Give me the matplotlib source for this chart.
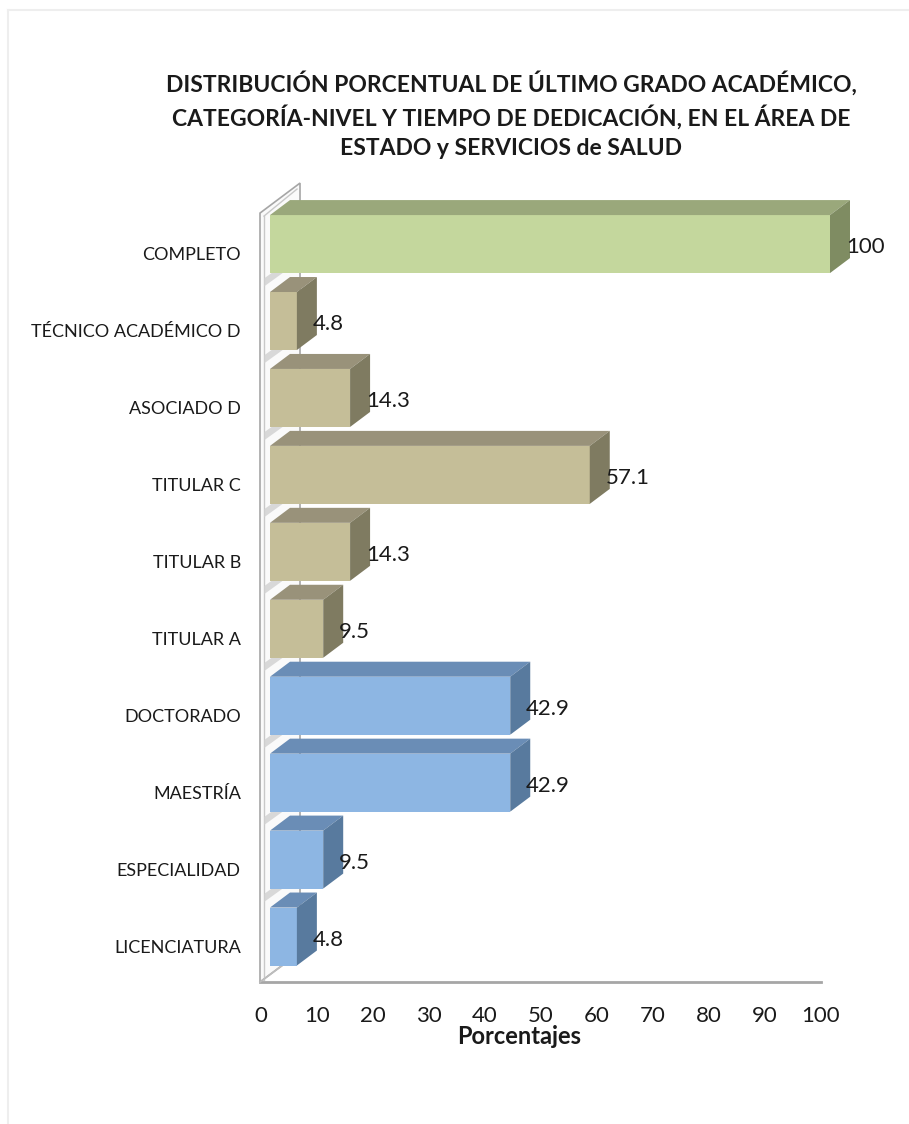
import matplotlib.pyplot as plt
import matplotlib.transforms as mtransforms
from matplotlib.patches import Polygon
import numpy as np

# Donnees
categorias = ['LICENCIATURA', 'ESPECIALIDAD', 'MAESTRÍA', 'DOCTORADO',
              'TITULAR A', 'TITULAR B', 'TITULAR C', 'ASOCIADO D',
              'TÉCNICO ACADÉMICO D', 'COMPLETO']
valores = [4.8, 9.5, 42.9, 42.9, 9.5, 14.3, 57.1, 14.3, 4.8, 100]
grupos = ['grado', 'grado', 'grado', 'grado',
          'categoria', 'categoria', 'categoria', 'categoria', 'categoria',
          'tiempo']
etiquetas = ['4.8', '9.5', '42.9', '42.9', '9.5', '14.3', '57.1', '14.3', '4.8', '100']
xticks = [0, 10, 20, 30, 40, 50, 60, 70, 80, 90, 100]

titulo = ('DISTRIBUCIÓN PORCENTUAL DE ÚLTIMO GRADO ACADÉMICO,\n'
          'CATEGORÍA-NIVEL Y TIEMPO DE DEDICACIÓN, EN EL ÁREA DE\n'
          'ESTADO y SERVICIOS de SALUD')

# couleurs (face, dessus, cote)
colores = {
    'grado': ('#8DB6E3', '#6A8DB6', '#587A9E'),
    'categoria': ('#C5BE98', '#99927A', '#7F7B61'),
    'tiempo': ('#C4D79D', '#9AA87B', '#7F8C62'),
}

plt.rcParams['font.family'] = ['Lato', 'DejaVu Sans']

W, H = 909, 1124
fig = plt.figure(figsize=(W / 100, H / 100), dpi=100)

# axes : x 0..100 -> px 270..830, y -0.5..9.5 -> px 975..205.6
ax = fig.add_axes([270 / W, (H - 975) / H, 560 / W, (975 - 205.6) / H])
ax.set_xlim(0, 100)
ax.set_ylim(-0.5, 9.5)

px_x = 100 / 560      # unites x par pixel
px_y = 10 / 769.4     # unites y par pixel
dx = 20 * px_x        # profondeur
dy = 15 * px_y
h = 58 * px_y         # hauteur des barres

# Mur gauche et sol
x_mur = -10 * px_x
x_mur_in = -6 * px_x
y_haut = 9 + h / 2 + 2 * px_y
y_sol = -0.5 - 7 * px_y
x_fond = 30 * px_x
mur = Polygon([(x_mur, y_sol), (x_mur, y_haut), (x_fond, y_haut + 30 * px_y),
               (x_fond, y_sol + 30 * px_y)], closed=True, facecolor='#FAFAFA',
              edgecolor='#A6A6A6', linewidth=1.2, clip_on=False, zorder=1)
ax.add_patch(mur)
ax.plot([x_mur_in, x_mur_in], [y_sol + 2 * px_y, y_haut - 3 * px_y], color='#C8C8C8',
        linewidth=1.0, clip_on=False, zorder=1.5)
ax.plot([x_mur_in, x_fond - 3 * px_x], [y_haut - 3 * px_y, y_haut + 24 * px_y],
        color='#C8C8C8', linewidth=1.0, clip_on=False, zorder=1.5)
ax.plot([x_mur, 98.4], [y_sol, y_sol], color='#A6A6A6', linewidth=2.0,
        clip_on=False, zorder=1.5)
ax.plot([x_mur, x_mur + 23 * px_x], [y_sol, y_sol + 17 * px_y], color='#BDBDBD',
        linewidth=1.2, clip_on=False, zorder=1.5)

# bandes grises entre categories sur le mur
for i in range(len(categorias) - 1):
    b = i + 0.5
    sombra = Polygon([(x_mur_in, b - 4 * px_y), (x_fond, b + 22 * px_y),
                      (x_fond, b + 30 * px_y), (x_mur_in, b + 4 * px_y)],
                     closed=True, facecolor='#D0D0D0', edgecolor='none',
                     alpha=0.8, clip_on=False, zorder=1.6)
    ax.add_patch(sombra)
    ax.plot([x_fond, x_fond], [b + 22 * px_y, b + 30 * px_y], color='#B0B0B0',
            linewidth=1.0, clip_on=False, zorder=1.7)

y = np.arange(len(categorias))

# Barres 3D
for i in range(len(categorias)):
    v = valores[i]
    cf, ct, cs = colores[grupos[i]]
    ax.barh(y[i], v, height=h, left=0, color=cf, edgecolor='none', zorder=3)
    dessus = Polygon([(0, y[i] + h / 2), (v, y[i] + h / 2), (v + dx, y[i] + h / 2 + dy),
                      (dx, y[i] + h / 2 + dy)], closed=True, facecolor=ct,
                     edgecolor='none', clip_on=False, zorder=3)
    cote = Polygon([(v, y[i] - h / 2), (v + dx, y[i] - h / 2 + dy),
                    (v + dx, y[i] + h / 2 + dy), (v, y[i] + h / 2)], closed=True,
                   facecolor=cs, edgecolor='none', clip_on=False, zorder=3)
    ax.add_patch(dessus)
    ax.add_patch(cote)
    ax.annotate(etiquetas[i], xy=(v, y[i]), xytext=(16 * 0.72, -3 * 0.72),
                textcoords='offset points', ha='left', va='center',
                fontsize=16, color='#1A1A1A', zorder=5, annotation_clip=False)

# Axes
for s in ax.spines.values():
    s.set_visible(False)
ax.set_yticks(y)
ax.set_yticklabels(categorias, fontsize=13, color='#1A1A1A')
ax.set_xticks(xticks)
ax.set_xticklabels([str(t) for t in xticks], fontsize=16, color='#1A1A1A')
ax.tick_params(axis='y', length=0, pad=21)
ax.tick_params(axis='x', length=0, pad=22)

decal_y = mtransforms.ScaledTranslation(0, -9.5 / 100, fig.dpi_scale_trans)
for lab in ax.get_yticklabels():
    lab.set_transform(lab.get_transform() + decal_y)
decal_x = mtransforms.ScaledTranslation(-9 / 100, 0, fig.dpi_scale_trans)
for lab in ax.get_xticklabels():
    lab.set_transform(lab.get_transform() + decal_x)

ax.set_xlabel('Porcentajes', fontsize=17, fontweight='bold', color='#1A1A1A')
ax.xaxis.set_label_coords(249 / 560, -(1036 - 975) / 769.4)
ax.xaxis.label.set_verticalalignment('center')

fig.text(511 / W, 1 - 115 / H, titulo, ha='center', va='center', fontsize=16.5,
         fontweight='bold', color='#1A1A1A', linespacing=1.45)

# cadre
fig.add_artist(plt.Line2D([8 / W, 8 / W], [0, 1 - 10 / H], color='#EEEEEE',
                          linewidth=1.5, transform=fig.transFigure))
fig.add_artist(plt.Line2D([8 / W, 1], [1 - 10 / H, 1 - 10 / H], color='#EEEEEE',
                          linewidth=1.5, transform=fig.transFigure))

fig.savefig('out.png', dpi=100, facecolor='white')
